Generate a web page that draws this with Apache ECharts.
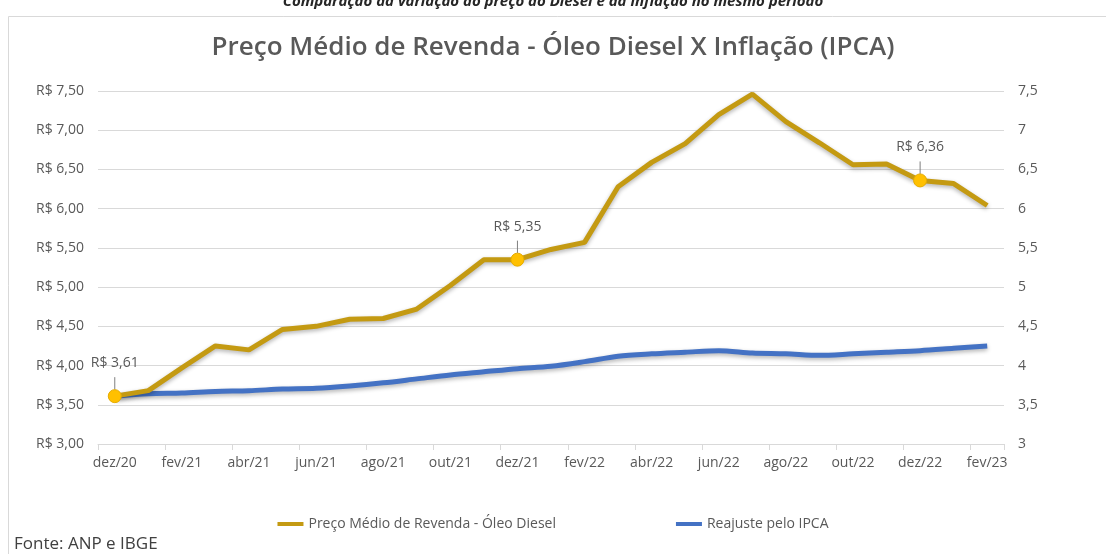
<!DOCTYPE html>
<html>
<head>
<meta charset="utf-8">
<script src="https://cdn.jsdelivr.net/npm/echarts@6/dist/echarts.min.js"></script>
<style>
  html, body { margin: 0; padding: 0; background: #fff; }
  #chart1 { width: 1106px; height: 554px; }
</style>
</head>
<body>
<div id="chart1"></div>
<script>
// categorias (meses)
var meses = ['dez/20','jan/21','fev/21','mar/21','abr/21','mai/21','jun/21','jul/21','ago/21','set/21','out/21','nov/21',
  'dez/21','jan/22','fev/22','mar/22','abr/22','mai/22','jun/22','jul/22','ago/22','set/22','out/22','nov/22',
  'dez/22','jan/23','fev/23'];
// preço médio de revenda - óleo diesel
var diesel = [3.61, 3.68, 3.97, 4.25, 4.20, 4.46, 4.50, 4.59, 4.60, 4.72, 5.02, 5.35,
  5.35, 5.48, 5.57, 6.28, 6.59, 6.83, 7.20, 7.46, 7.11, 6.84, 6.56, 6.57,
  6.36, 6.32, 6.04];
// reajuste pelo IPCA
var ipca = [3.61, 3.64, 3.65, 3.67, 3.68, 3.70, 3.71, 3.74, 3.78, 3.83, 3.88, 3.92,
  3.96, 3.99, 4.05, 4.12, 4.15, 4.17, 4.19, 4.16, 4.15, 4.13, 4.15, 4.17,
  4.19, 4.22, 4.25];
// pontos com rótulo
var destaques = [0, 12, 24];

var fonte = '"Liberation Sans Narrow", "Open Sans", sans-serif';

var dieselData = diesel.map(function (v, i) {
  if (destaques.indexOf(i) < 0) return v;
  return {
    value: v,
    symbol: 'circle',
    symbolSize: 13,
    itemStyle: { color: '#FFC000', borderColor: '#E6AC00', borderWidth: 1 },
    label: {
      show: true,
      position: 'top',
      distance: 19,
      color: '#595959',
      fontSize: 14,
      fontFamily: fonte,
      formatter: function (p) { return 'R$ ' + p.value.toFixed(2).replace('.', ','); }
    }
  };
});

var myChartLine = echarts.init(document.getElementById('chart1'));
var optionLine = {
  backgroundColor: '#fff',
  animation: false,
  title: [{
    text: 'Comparação da variação do preço do Diesel e da inflação no mesmo período',
    left: 'center',
    top: -11,
    textStyle: { fontSize: 15, fontStyle: 'italic', fontWeight: 'bold', color: '#262626', fontFamily: fonte }
  }, {
    text: 'Preço Médio de Revenda - Óleo Diesel X Inflação (IPCA)',
    left: 'center',
    top: 30,
    textStyle: { fontSize: 26, fontWeight: 600, color: '#595959', fontFamily: fonte }
  }, {
    text: 'Fonte: ANP e IBGE',
    left: 9,
    top: 531,
    textStyle: { fontSize: 17, fontWeight: 'normal', color: '#404040', fontFamily: fonte }
  }],
  graphic: [{
    type: 'rect',
    shape: { x: 8.5, y: 16.5, width: 1110, height: 560 },
    style: { fill: 'none', stroke: '#d9d9d9', lineWidth: 1 },
    z: -1
  }],
  legend: {
    top: 512,
    left: 'center',
    itemGap: 120,
    itemWidth: 26,
    itemHeight: 4,
    icon: 'rect',
    textStyle: { color: '#595959', fontSize: 14, fontFamily: fonte },
    data: ['Preço Médio de Revenda - Óleo Diesel', 'Reajuste pelo IPCA']
  },
  grid: { left: 98, right: 102, top: 91, bottom: 110 },
  xAxis: {
    type: 'category',
    boundaryGap: true,
    data: meses,
    axisLine: { lineStyle: { color: '#d9d9d9' } },
    axisTick: { show: true, interval: 1, length: 6, lineStyle: { color: '#d9d9d9' } },
    axisLabel: { interval: 1, color: '#595959', fontSize: 14, fontFamily: fonte, margin: 12 }
  },
  yAxis: [{
    type: 'value',
    min: 3, max: 7.5, interval: 0.5,
    axisLine: { show: false },
    axisTick: { show: false },
    splitLine: { lineStyle: { color: '#d9d9d9', width: 1 } },
    axisLabel: {
      color: '#595959', fontSize: 14, fontFamily: fonte, margin: 14,
      formatter: function (v) { return 'R$ ' + v.toFixed(2).replace('.', ','); }
    }
  }, {
    type: 'value',
    min: 3, max: 7.5, interval: 0.5,
    axisLine: { show: false },
    axisTick: { show: false },
    splitLine: { show: false },
    axisLabel: {
      color: '#595959', fontSize: 14, fontFamily: fonte, margin: 14,
      formatter: function (v) { return String(v).replace('.', ','); }
    }
  }],
  series: [{
    name: 'Preço Médio de Revenda - Óleo Diesel',
    type: 'line',
    data: dieselData,
    symbol: 'none',
    showSymbol: true,
    lineStyle: { color: '#C49A12', width: 5, shadowColor: 'rgba(0,0,0,0.3)', shadowBlur: 4, shadowOffsetY: 2 },
    itemStyle: { color: '#C49A12' },
    labelLine: { show: true, lineStyle: { color: '#7f7f7f', width: 1 } },
    z: 3
  }, {
    name: 'Reajuste pelo IPCA',
    type: 'line',
    data: ipca,
    smooth: 0.3,
    symbol: 'none',
    lineStyle: { color: '#4472C4', width: 5, shadowColor: 'rgba(0,0,0,0.3)', shadowBlur: 4, shadowOffsetY: 2 },
    itemStyle: { color: '#4472C4' },
    z: 2
  }]
};
myChartLine.setOption(optionLine);
</script>
</body>
</html>
